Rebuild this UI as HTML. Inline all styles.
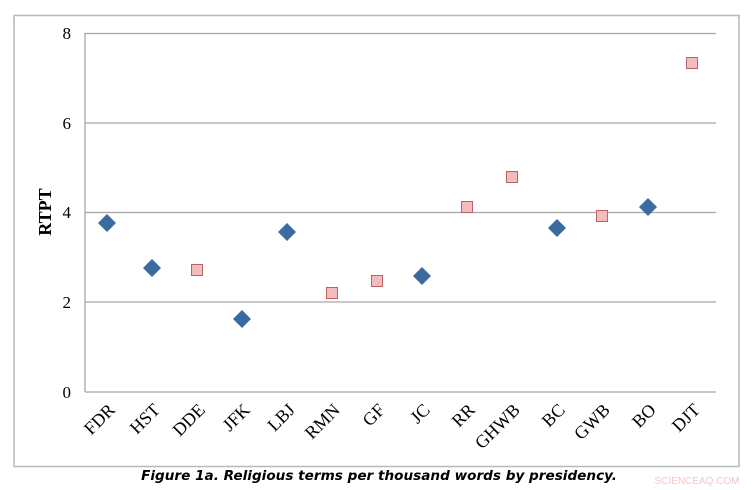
<!DOCTYPE html>
<html><head><style>
body{margin:0;background:#fff;width:754px;height:490px;overflow:hidden}
svg{display:block}
</style></head><body>
<svg width="754" height="490" xmlns="http://www.w3.org/2000/svg">
<rect x="14" y="15.5" width="725" height="451" fill="#fff" stroke="#b8b8b8" stroke-width="1.5"/>
<g stroke="#a6a6a6" stroke-width="1.3">
<line x1="85" y1="33.5" x2="716" y2="33.5"/>
<line x1="85" y1="123" x2="716" y2="123"/>
<line x1="85" y1="212.5" x2="716" y2="212.5"/>
<line x1="85" y1="302" x2="716" y2="302"/>
<line x1="85" y1="392" x2="716" y2="392"/>
<line x1="85" y1="33" x2="85" y2="392"/>
</g>
<g font-family="Liberation Serif, serif" font-size="17" text-anchor="end" fill="#000">
<text x="71" y="39">8</text><text x="71" y="129">6</text><text x="71" y="218">4</text><text x="71" y="308">2</text><text x="71" y="398">0</text>
</g>
<text transform="translate(51,212) rotate(-90)" font-family="Liberation Serif, serif" font-size="18" font-weight="bold" text-anchor="middle">RTPT</text>
<g fill="#3b6aa0">
<path d="M107 214l9 9l-9 9l-9-9z"/>
<path d="M152 259l9 9l-9 9l-9-9z"/>
<path d="M242 310l9 9l-9 9l-9-9z"/>
<path d="M287 223l9 9l-9 9l-9-9z"/>
<path d="M422 267l9 9l-9 9l-9-9z"/>
<path d="M557 219l9 9l-9 9l-9-9z"/>
<path d="M648 198l9 9l-9 9l-9-9z"/>
</g>
<g fill="#f2bcbc" stroke="#b86464" stroke-width="1">
<rect x="191.5" y="264.5" width="11" height="11"/>
<rect x="326.5" y="287.5" width="11" height="11"/>
<rect x="371.5" y="275.5" width="11" height="11"/>
<rect x="461.5" y="201.5" width="11" height="11"/>
<rect x="506.5" y="171.5" width="11" height="11"/>
<rect x="596.5" y="210.5" width="11" height="11"/>
<rect x="686.5" y="57.5" width="11" height="11"/>
</g>
<g font-family="Liberation Serif, serif" font-size="18" text-anchor="end" fill="#000">
<text transform="translate(116,411) rotate(-45)">FDR</text>
<text transform="translate(161,411) rotate(-45)">HST</text>
<text transform="translate(206,411) rotate(-45)">DDE</text>
<text transform="translate(251,411) rotate(-45)">JFK</text>
<text transform="translate(296,411) rotate(-45)">LBJ</text>
<text transform="translate(341,411) rotate(-45)">RMN</text>
<text transform="translate(386,411) rotate(-45)">GF</text>
<text transform="translate(431,411) rotate(-45)">JC</text>
<text transform="translate(476,411) rotate(-45)">RR</text>
<text transform="translate(521,411) rotate(-45)">GHWB</text>
<text transform="translate(566,411) rotate(-45)">BC</text>
<text transform="translate(611,411) rotate(-45)">GWB</text>
<text transform="translate(657,411) rotate(-45)">BO</text>
<text transform="translate(701,411) rotate(-45)">DJT</text>
</g>
<text x="379" y="480" font-family="DejaVu Sans, sans-serif" font-size="13.6" font-weight="bold" font-style="italic" text-anchor="middle">Figure 1a. Religious terms per thousand words by presidency.</text>
<text x="697" y="484" font-family="Liberation Sans, sans-serif" font-size="10" fill="#f4c6c6" text-anchor="middle">SCIENCEAQ.COM</text>
</svg>
</body></html>
